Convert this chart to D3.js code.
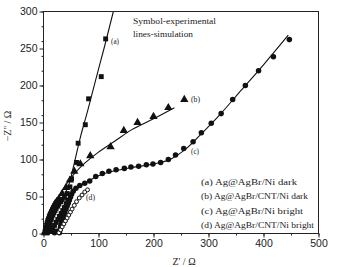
<!DOCTYPE html>
<html lang="en">
<head>
  <meta charset="UTF-8">
  <title>Nyquist plot</title>
  <script src="https://d3js.org/d3.v7.min.js"></script>
  <style>
    body { margin: 0; background: #fff; }
    svg { font-family: "Liberation Serif", "Times New Roman", Times, serif; }
    .tick text { font-size: 10.5px; fill: #222; }
    .tick line { stroke: #222; }
  </style>
</head>
<body>
  <svg width="339" height="267"></svg>

  <script>
    // experimental points (Z', -Z'')
    const aExp = [[7,1],[8,4],[9,7],[10,10],[11,13],[12,16],[14,19],[15,22],[17,25],[19,28],[21,31],[23,34],[26,37],[28,40],[31,43],[34,46],[38,49],[43,54],[48,63],[51,74],[60,96],[63,122],[76,147],[82,182],[105,212],[113,263],
                  [14,3],[17,7],[20,11],[23,15],[26,19],[29,23],[32,27],[35,31],[38,35],[41,40],[44,45]];
    const bExp = [[3,1],[4,4],[5,7],[6,10],[7,13],[8,16],[9,19],[10,22],[12,25],[13,28],[15,31],[17,34],[19,37],[21,40],[24,43],[28,47],[34,54],[41,62],[48,72],[56,84],[67,94],[85,105],[122,117],[146,139],[171,150],[200,158],[227,170],[256,181]];
    const cExp = [[20,1],[24,3],[29,1],[30,5],[31,9],[32,13],[34,17],[35,21],[37,25],[39,29],[41,33],[43,37],[45,41],[47,45],[49,49],[51,53],[54,57],[59,61],[66,65],[75,68],[84,71],[95,77],[107,81],[119,84],[132,86],[147,88],[159,90],[173,91],[187,93],[199,94],[213,96],[227,100],[240,106],[255,115],[272,124],[287,136],[305,149],[323,162],[344,181],[367,200],[391,220],[418,239],[447,262]];
    const dExp = [[28,1],[31,5],[34,9],[37,13],[40,17],[43,21],[46,25],[49,29],[52,33],[56,38],[60,43],[65,48],[70,52],[75,56],[80,59]];

    // simulation lines
    const aSim = [[5,0],[12,12],[20,25],[30,40],[40,55],[47,68],[55,92],[67,130],[80,165],[95,208],[110,250],[127,300]];
    const bSim = [[2,0],[7,15],[14,30],[24,45],[40,65],[55,80],[75,95],[100,110],[130,125],[160,140],[200,155],[238,170]];
    const cSim = [[27,0],[31,12],[37,25],[44,38],[52,52],[62,62],[80,70],[100,78],[120,83],[160,89],[200,94],[230,100],[260,115],[290,137],[320,160],[360,194],[400,228],[445,268]];
    const dSim = [[26,0],[40,17],[55,37],[68,51],[80,59]];

    const xTicks = [0, 100, 200, 300, 400, 500];
    const yTicks = [0, 50, 100, 150, 200, 250, 300];
    const legendLabels = ["(a) Ag@AgBr/Ni dark", "(b) Ag@AgBr/CNT/Ni dark", "(c) Ag@AgBr/Ni bright", "(d) Ag@AgBr/CNT/Ni bright"];
    const legendWidths = [96, 107, 102, 113];
    const noteLines = ["Symbol-experimental", "lines-simulation"];
    const noteWidths = [83, 60];

    const svg = d3.select("svg");
    const m = { left: 43.5, right: 318.5, top: 11.5, bottom: 233.5 };

    const x = d3.scaleLinear().domain([0, 500]).range([m.left, m.right]);
    const y = d3.scaleLinear().domain([0, 300]).range([m.bottom, m.top]);

    // axes (major + minor ticks, outward)
    svg.append("g")
      .attr("transform", `translate(0,${m.bottom})`)
      .call(d3.axisBottom(x).tickValues(xTicks).tickSize(4).tickSizeOuter(0).tickPadding(2))
      .call(g => g.select(".domain").remove());
    svg.append("g")
      .attr("transform", `translate(0,${m.bottom})`)
      .call(d3.axisBottom(x).ticks(10).tickSize(2).tickFormat(""))
      .call(g => g.select(".domain").remove());
    svg.append("g")
      .attr("transform", `translate(${m.left},0)`)
      .call(d3.axisLeft(y).tickValues(yTicks).tickSize(4).tickSizeOuter(0).tickPadding(2))
      .call(g => g.select(".domain").remove());
    svg.append("g")
      .attr("transform", `translate(${m.left},0)`)
      .call(d3.axisLeft(y).ticks(12).tickSize(2).tickFormat(""))
      .call(g => g.select(".domain").remove());

    // frame
    svg.append("rect")
      .attr("x", m.left).attr("y", m.top)
      .attr("width", m.right - m.left).attr("height", m.bottom - m.top)
      .attr("fill", "none").attr("stroke", "#222").attr("stroke-width", 1);

    const plot = svg.append("g");
    plot.append("clipPath").attr("id", "clip")
      .append("rect").attr("x", m.left).attr("y", m.top).attr("width", m.right - m.left).attr("height", m.bottom - m.top);

    const line = d3.line()
      .x(d => x(d[0]))
      .y(d => y(d[1]))
      .curve(d3.curveCatmullRom);

    [aSim, bSim, cSim, dSim].forEach(s => {
      plot.append("path")
        .datum(s)
        .attr("d", line)
        .attr("clip-path", "url(#clip)")
        .attr("fill", "none")
        .attr("stroke", "#111")
        .attr("stroke-width", 1.1);
    });

    function markers(data, type, size, fill) {
      plot.append("g").selectAll("path")
        .data(data)
        .join("path")
        .attr("transform", d => `translate(${x(d[0])},${y(d[1])})`)
        .attr("d", d3.symbol().type(type).size(size))
        .attr("fill", fill)
        .attr("stroke", "#111")
        .attr("stroke-width", fill === "#111" ? 0 : 1);
    }
    markers(aExp, d3.symbolSquare, 24, "#111");
    markers(bExp, d3.symbolTriangle, 30, "#111");
    markers(cExp, d3.symbolCircle, 24, "#111");
    markers(dExp, d3.symbolCircle, 12, "#fff");

    // text squeezed/stretched to the widths
    function label(px, py, str, size, w) {
      svg.append("text")
        .attr("x", px).attr("y", py)
        .attr("font-size", size)
        .attr("fill", "#222")
        .attr("textLength", w)
        .attr("lengthAdjust", "spacingAndGlyphs")
        .text(str);
    }

    label(111, 44, "(a)", 9, 8);
    label(191, 102, "(b)", 9, 9);
    label(191, 154, "(c)", 9, 8);
    label(86, 200, "(d)", 9, 9);

    noteLines.forEach((t, i) => label(133, 24 + i * 13, t, 9, noteWidths[i]));
    legendLabels.forEach((t, i) => label(201, 185 + i * 14.3, t, 8.5, legendWidths[i]));

    // axis titles
    svg.append("text")
      .attr("x", 184).attr("y", 265)
      .attr("text-anchor", "middle")
      .attr("font-size", 10)
      .attr("fill", "#222")
      .text("Z' / \u03A9");
    svg.append("text")
      .attr("transform", "translate(11,126) rotate(-90)")
      .attr("text-anchor", "middle")
      .attr("font-size", 10)
      .attr("fill", "#222")
      .text("\u2212Z'' / \u03A9");
  </script>
</body>
</html>
